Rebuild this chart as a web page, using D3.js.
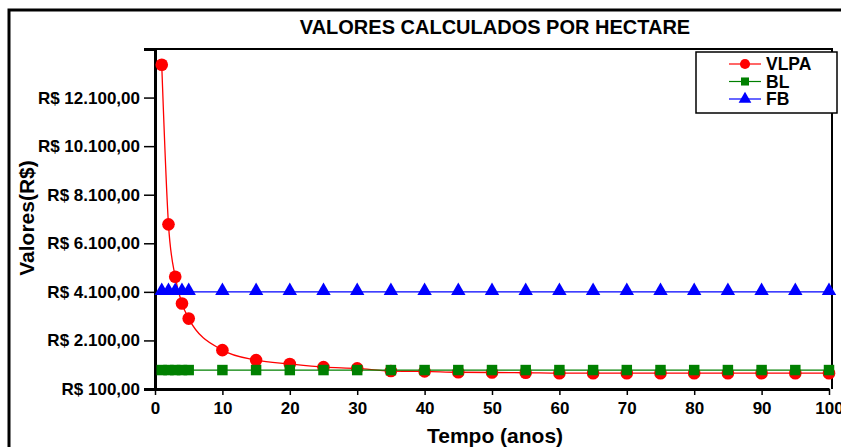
<!DOCTYPE html>
<html>
<head>
<meta charset="utf-8">
<script src="https://cdn.jsdelivr.net/npm/d3@7"></script>
<style>
  body { margin: 0; background: #fff; }
  svg { display: block; font-family: "Liberation Sans", Arial, sans-serif; font-weight: bold; }
</style>
</head>
<body>
<svg id="chart" width="841" height="447"></svg>
<script>
// data
const anos = [1, 2, 3, 4, 5, 10, 15, 20, 25, 30, 35, 40, 45, 50, 55, 60, 65, 70, 75, 80, 85, 90, 95, 100];
const vlpa = [13450, 6880, 4720, 3620, 3000, 1700, 1290, 1130, 1000, 950, 840, 825, 790, 780, 770, 750, 750, 750, 750, 750, 750, 750, 750, 750];
const bl = [880, 880, 880, 880, 880, 880, 880, 880, 880, 880, 880, 880, 880, 880, 880, 880, 880, 880, 880, 880, 880, 880, 880, 880];
const fb = [4100, 4100, 4100, 4100, 4100, 4100, 4100, 4100, 4100, 4100, 4100, 4100, 4100, 4100, 4100, 4100, 4100, 4100, 4100, 4100, 4100, 4100, 4100, 4100];
const yTicks = [100, 2100, 4100, 6100, 8100, 10100, 12100];
const xTicks = [0, 10, 20, 30, 40, 50, 60, 70, 80, 90, 100];

const series = [
  { name: "VLPA", values: vlpa, color: "#ff0000", shape: "circle" },
  { name: "BL", values: bl, color: "#008000", shape: "square" },
  { name: "FB", values: fb, color: "#0000ff", shape: "triangle" }
];

const svg = d3.select("#chart");
const m = { left: 155, right: 832, top: 49, bottom: 389 };

// outer chart frame
svg.append("rect").attr("x", 9).attr("y", 10).attr("width", 840).attr("height", 450)
  .attr("fill", "none").attr("stroke", "#000").attr("stroke-width", 3);

svg.append("text").attr("x", 495).attr("y", 34).attr("text-anchor", "middle")
  .attr("font-size", 20).text("VALORES CALCULADOS POR HECTARE");

const x = d3.scaleLinear().domain([0, 100]).range([m.left, m.right - 3]);
const y = d3.scaleLinear().domain([100, 14100]).range([m.bottom, m.top]);

// plot border (top/right thin)
svg.append("path")
  .attr("d", `M${m.left},${m.top}H${m.right}V${m.bottom}`)
  .attr("fill", "none").attr("stroke", "#000").attr("stroke-width", 2);

const fmt = v => "R$ " + d3.format(",.2f")(v).replace(/,/g, "#").replace(".", ",").replace(/#/g, ".");

const yAxis = svg.append("g").attr("transform", `translate(${m.left},0)`)
  .call(d3.axisLeft(y).tickValues(yTicks).tickSize(11).tickPadding(4).tickFormat(fmt));
yAxis.select(".domain").attr("stroke-width", 3);
yAxis.selectAll("line").attr("stroke-width", 1.5);
yAxis.selectAll("text").attr("font-size", 17).attr("font-family", "Liberation Sans, Arial").attr("font-weight", "bold").attr("fill", "#000");

const xAxis = svg.append("g").attr("transform", `translate(0,${m.bottom})`)
  .call(d3.axisBottom(x).tickValues(xTicks).tickSize(6).tickPadding(7).tickSizeOuter(0));
xAxis.select(".domain").attr("stroke-width", 3);
xAxis.selectAll("line").attr("stroke-width", 1.5);
xAxis.selectAll("text").attr("font-size", 17).attr("font-family", "Liberation Sans, Arial").attr("font-weight", "bold").attr("fill", "#000");

svg.append("text").attr("x", 495).attr("y", 443).attr("text-anchor", "middle")
  .attr("font-size", 21).text("Tempo (anos)");
svg.append("text").attr("transform", "translate(34,218) rotate(-90)").attr("text-anchor", "middle")
  .attr("font-size", 21).text("Valores(R$)");

const symbols = {
  circle: d3.symbol().type(d3.symbolCircle).size(125),
  square: d3.symbol().type(d3.symbolSquare).size(110),
  triangle: d3.symbol().type(d3.symbolTriangle).size(90)
};

const line = d3.line().x(d => x(d[0])).y(d => y(d[1])).curve(d3.curveMonotoneX);

series.forEach(s => {
  const pts = anos.map((a, i) => [a, s.values[i]]);
  const g = svg.append("g");
  g.append("path").datum(pts).attr("d", line)
    .attr("fill", "none").attr("stroke", s.color).attr("stroke-width", 1.3);
  g.selectAll("path.pt").data(pts).join("path").attr("class", "pt")
    .attr("transform", d => `translate(${x(d[0])},${y(d[1]) + (s.shape === "triangle" ? -1 : 0)})`)
    .attr("d", symbols[s.shape]()).attr("fill", s.color);
});

// legend
const lg = svg.append("g");
lg.append("rect").attr("x", 696).attr("y", 52).attr("width", 141).attr("height", 61)
  .attr("fill", "#fff").attr("stroke", "#000").attr("stroke-width", 1.5);
const legendSym = {
  circle: d3.symbol().type(d3.symbolCircle).size(80),
  square: d3.symbol().type(d3.symbolSquare).size(65),
  triangle: d3.symbol().type(d3.symbolTriangle).size(70)
};
series.forEach((s, i) => {
  const cy = 64 + i * 17.5;
  lg.append("line").attr("x1", 729).attr("x2", 761).attr("y1", cy).attr("y2", cy)
    .attr("stroke", s.color).attr("stroke-width", 1.2);
  lg.append("path").attr("transform", `translate(745,${cy})`).attr("d", legendSym[s.shape]()).attr("fill", s.color);
  lg.append("text").attr("x", 766).attr("y", cy + 6).attr("font-size", 17.5).text(s.name);
});
</script>
</body>
</html>
